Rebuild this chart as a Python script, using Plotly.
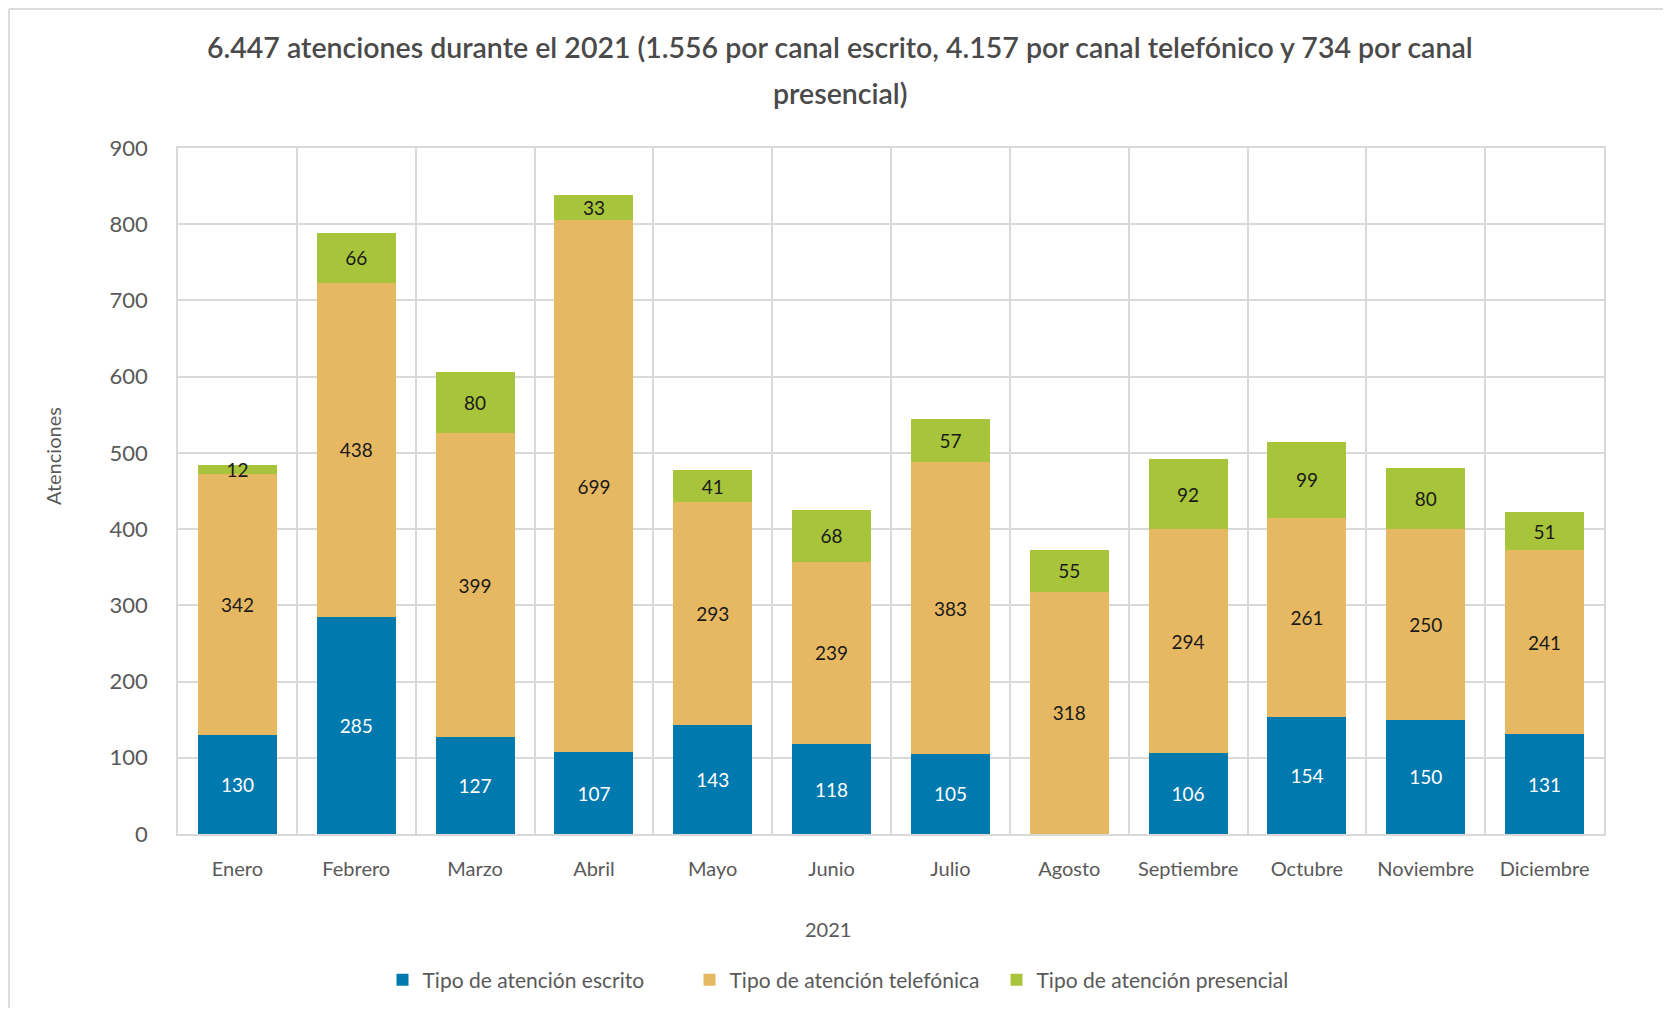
import plotly.graph_objects as go

meses = ["Enero", "Febrero", "Marzo", "Abril", "Mayo", "Junio", "Julio",
         "Agosto", "Septiembre", "Octubre", "Noviembre", "Diciembre"]
escrito = [130, 285, 127, 107, 143, 118, 105, None, 106, 154, 150, 131]
telefonica = [342, 438, 399, 699, 293, 239, 383, 318, 294, 261, 250, 241]
presencial = [12, 66, 80, 33, 41, 68, 57, 55, 92, 99, 80, 51]

series_names = ["Tipo de atención escrito", "Tipo de atención telefónica", "Tipo de atención presencial"]
colors = ["#0079AE", "#E6B862", "#A8C43A"]
label_colors = ["#FFFFFF", "#1a1a1a", "#1a1a1a"]

title_l1 = "6.447 atenciones durante el 2021 (1.556 por canal escrito, 4.157 por canal telefónico y 734 por canal"
title_l2 = "presencial)"
x_title = "2021"
y_title = "Atenciones"

# page body has an 8px margin: the figure is drawn at screen offset (8, 8)
OFF = 8
W, H = 1655, 1000
# plot area in screen pixels: x 178..1604, y 148..834
PL, PR, PT, PB = 178 - OFF, 1604 - OFF, 148 - OFF, 834 - OFF
ML, MR, MT, MB = PL, W - PR, PT, H - PB
PW, PH = PR - PL, PB - PT

def px_x(screen_x):
    return (screen_x - OFF - PL) / PW

def px_y(screen_y):
    return (PB - (screen_y - OFF)) / PH

FONT = "Lato, 'Open Sans', sans-serif"
GRAY = "#595959"
GRID = "#D9D9D9"

fig = go.Figure()
for vals, name, col, tcol in zip([escrito, telefonica, presencial], series_names, colors, label_colors):
    fig.add_trace(go.Bar(
        x=meses, y=vals, name=name,
        marker=dict(color=col, line=dict(width=0)),
        text=[("" if v is None else str(v)) for v in vals],
        textposition="inside", insidetextanchor="middle",
        constraintext="none", textangle=0,
        textfont=dict(family=FONT, size=19, color=tcol),
    ))

fig.update_layout(
    width=W, height=H,
    barmode="stack", bargap=0.335,
    margin=dict(l=ML, r=MR, t=MT, b=MB, autoexpand=False),
    paper_bgcolor="white", plot_bgcolor="white",
    font=dict(family=FONT, color=GRAY),
    showlegend=True,
    legend=dict(orientation="h", x=px_x(843), xanchor="center", y=px_y(980), yanchor="middle",
                font=dict(family=FONT, size=21, color=GRAY), traceorder="normal",
                itemwidth=30, entrywidth=262),
)
fig.update_xaxes(
    type="category", tickson="boundaries", showgrid=True, gridcolor=GRID, gridwidth=1.5,
    showline=True, linecolor=GRID, linewidth=1.5, mirror=True, automargin=False,
    ticks="", tickfont=dict(family=FONT, size=20, color=GRAY), ticklabelstandoff=16,
)
fig.update_yaxes(
    range=[0, 900], dtick=100, showgrid=True, gridcolor=GRID, gridwidth=1.5,
    showline=True, linecolor=GRID, linewidth=1.5, mirror=True, zeroline=False, automargin=False,
    ticks="", tickfont=dict(family=FONT, size=22, color=GRAY), ticklabelstandoff=24,
)

ann = [
    dict(text=title_l1, x=px_x(840), y=px_y(47), font=dict(size=28.5, color="#4a4a4a", family=FONT, weight=600)),
    dict(text=title_l2, x=px_x(840), y=px_y(93), font=dict(size=28.5, color="#4a4a4a", family=FONT, weight=600)),
    dict(text=x_title, x=px_x(828), y=px_y(929), font=dict(size=20, color=GRAY, family=FONT)),
    dict(text=y_title, x=px_x(53), y=px_y(456), textangle=-90, font=dict(size=20, color=GRAY, family=FONT)),
]
for a in ann:
    fig.add_annotation(xref="paper", yref="paper", showarrow=False, xanchor="center", yanchor="middle", **a)

# light frame around the chart (top and left edges)
fig.add_shape(type="line", xref="paper", yref="paper", x0=px_x(9), x1=px_x(1680), y0=px_y(9), y1=px_y(9),
              line=dict(color="#DCDCDC", width=2))
fig.add_shape(type="line", xref="paper", yref="paper", x0=px_x(9), x1=px_x(9), y0=px_y(9), y1=px_y(1020),
              line=dict(color="#DCDCDC", width=2))

fig.write_html("out.html")
